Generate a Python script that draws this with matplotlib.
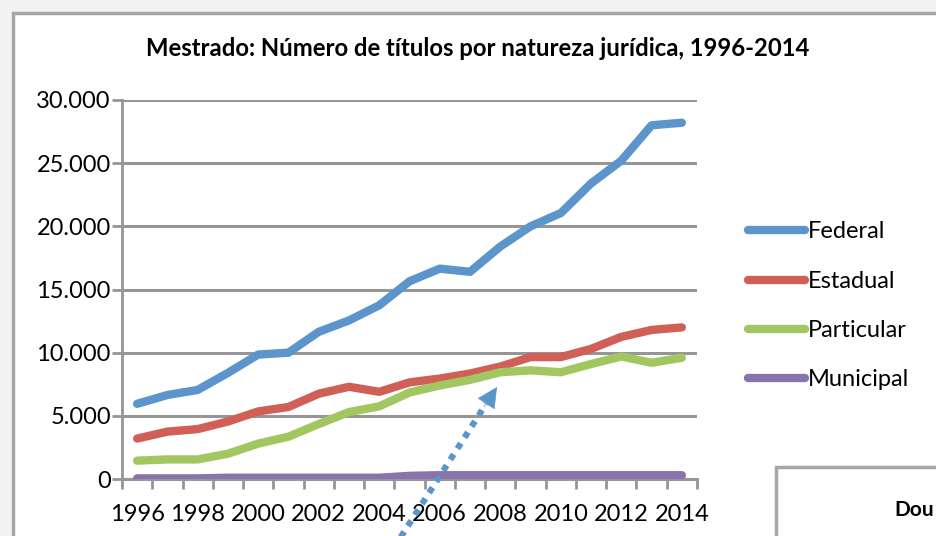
import matplotlib.pyplot as plt
from matplotlib.patches import Rectangle, FancyArrowPatch
from matplotlib.lines import Line2D

years = list(range(1996, 2015))
federal = [5950, 6650, 7050, 8400, 9850, 10000, 11650, 12550, 13750, 15650,
           16650, 16400, 18400, 20000, 21050, 23400, 25200, 28000, 28200]
estadual = [3200, 3750, 3950, 4550, 5350, 5700, 6750, 7300, 6900, 7650,
            7950, 8350, 8900, 9650, 9650, 10300, 11250, 11800, 12000]
particular = [1450, 1550, 1550, 2000, 2800, 3350, 4350, 5300, 5750, 6850,
              7400, 7850, 8450, 8600, 8450, 9100, 9700, 9200, 9600]
municipal = [50, 50, 50, 100, 100, 100, 100, 100, 100, 250,
             300, 300, 300, 300, 300, 300, 300, 300, 300]

series = ["Federal", "Estadual", "Particular", "Municipal"]
colors = ["#5B95CB", "#CF5F57", "#A3C760", "#8A72AC"]

plt.rcParams['font.family'] = ['Lato', 'DejaVu Sans']

W, H = 936, 536
fig = plt.figure(figsize=(W / 100, H / 100), dpi=100, facecolor='#F2F2F2')

# chart frame + the next chart peeking in at the bottom right
fig.add_artist(Rectangle((13 / W, -0.05), 1.0, 1 - 13 / H + 0.05,
                         transform=fig.transFigure, facecolor='white',
                         edgecolor='#A6A6A6', lw=2.5, zorder=-3))
fig.add_artist(Rectangle((776 / W, -0.05), 1.0, 1 - 467 / H + 0.05,
                         transform=fig.transFigure, facecolor='white',
                         edgecolor='#A6A6A6', lw=2.5, zorder=-2))
fig.text(934 / W, 1 - 510 / H, "Dou", fontsize=15, fontweight='bold',
         va='center', ha='right')

fig.text(478 / W, 1 - 48 / H,
         "Mestrado: Número de títulos por natureza jurídica, 1996-2014",
         fontsize=17.2, fontweight='bold', ha='center', va='center')

ax = fig.add_axes([122 / W, 1 - 479 / H, 575 / W, 379 / H])
ax.set_facecolor('none')

for name, vals, c in zip(series, [federal, estadual, particular, municipal], colors):
    ax.plot(years, vals, color=c, lw=6, label=name,
            solid_capstyle='round', solid_joinstyle='round', zorder=3)

ax.set_xlim(1995.5, 2014.5)
ax.set_ylim(0, 30000)
ax.set_yticks(range(0, 30001, 5000))
ax.set_yticklabels([f"{v:,}".replace(",", ".") for v in range(0, 30001, 5000)])
ax.set_xticks(years[::2])
ax.set_xticks([y - 0.5 for y in years] + [2014.5], minor=True)

grid = '#969696'
ax.grid(axis='y', color=grid, lw=2.2, zorder=1)
ax.tick_params(axis='y', length=7, width=2, color=grid, labelsize=17, pad=1)
ax.tick_params(axis='x', which='major', length=0, labelsize=17, pad=18)
ax.tick_params(axis='x', which='minor', length=7, width=2, color=grid)

for s in ['top', 'right']:
    ax.spines[s].set_visible(False)
ax.spines['left'].set_color(grid)
ax.spines['left'].set_linewidth(2)
ax.spines['bottom'].set_color(grid)
ax.spines['bottom'].set_linewidth(2.2)

fig.legend(loc='center left', bbox_to_anchor=(748 / W, 1 - 306 / H),
           frameon=False, fontsize=17, handlelength=2.4, handletextpad=0.12,
           labelspacing=1.2, borderpad=0, borderaxespad=0)

# dotted arrow pointing into the chart
fig.add_artist(Line2D([398 / W, 486 / W], [-0.01, 1 - 404 / H],
                      transform=fig.transFigure, color='#5B95CB', lw=4.5,
                      linestyle=(0, (1, 1.1)), zorder=5))
fig.add_artist(FancyArrowPatch((484 / W, 1 - 407 / H), (497 / W, 1 - 387 / H),
                               transform=fig.transFigure, arrowstyle='-|>',
                               mutation_scale=34, color='#5B95CB', lw=0.5,
                               shrinkA=0, shrinkB=0, zorder=5))

fig.savefig("out.png", dpi=100, facecolor=fig.get_facecolor())
